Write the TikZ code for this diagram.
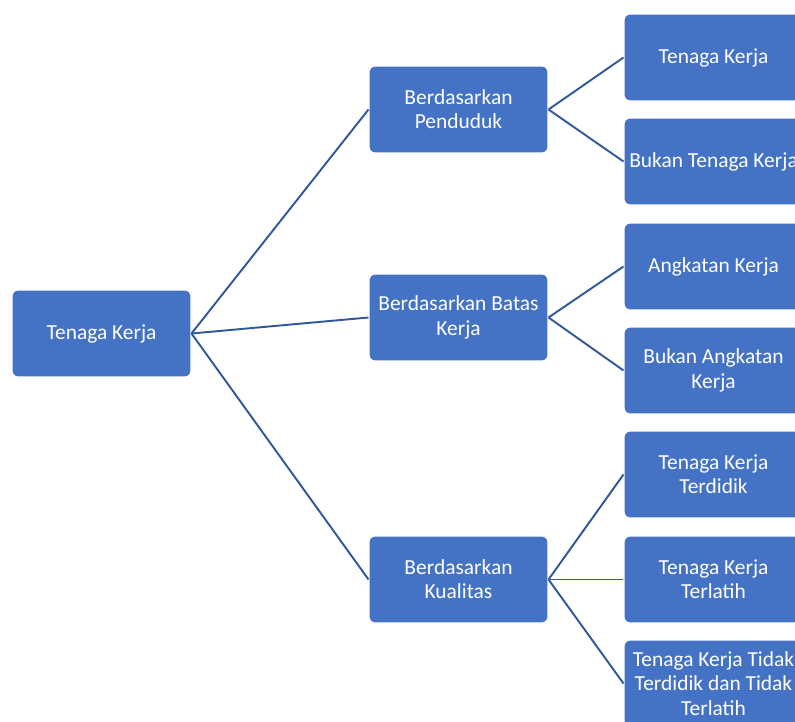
\documentclass[tikz,border=0pt]{standalone}
\usepackage{fontspec}
\setmainfont{Carlito}
\usepackage{xcolor}
\usepackage{tikz}
\usetikzlibrary{positioning}
\definecolor{boxc}{RGB}{68,114,196}
\definecolor{linkc}{RGB}{50,88,156}
\tikzset{
  unit/.style = {draw=white, line width=0.6pt, fill=boxc, rounded corners=3.5pt,
                 minimum width=3.58cm, minimum height=1.74cm, align=center,
                 inner sep=1pt, text=white, font=\fontsize{12.2}{13.8}\selectfont},
  link/.style = {draw=linkc, line width=1.1pt},
}
\begin{document}
\begin{tikzpicture}[x=0.02cm, y=-0.02cm]
\useasboundingbox (0,0) rectangle (795,722);

\node[unit] (root) at (101.5,333.5) {Tenaga Kerja};

\node[unit] (pend) at (458.5,109.5) {Berdasarkan\\Penduduk};
\node[unit] (batas) at (458.5,317.5) {Berdasarkan Batas\\Kerja};
\node[unit] (kual) at (458.5,579.5) {Berdasarkan\\Kualitas};

\node[unit] (tk) at (713.5,57.5) {Tenaga Kerja};
\node[unit] (btk) at (713.5,161.5) {Bukan Tenaga Kerja};
\node[unit] (ak) at (713.5,266.5) {Angkatan Kerja};
\node[unit] (bak) at (713.5,370.5) {Bukan Angkatan\\Kerja};
\node[unit] (tkd) at (713.5,474.5) {Tenaga Kerja\\Terdidik};
\node[unit] (tkl) at (713.5,579.5) {Tenaga Kerja\\Terlatih};
\node[unit] (tkt) at (713.5,683.5) {Tenaga Kerja Tidak\\Terdidik dan Tidak\\Terlatih};

\foreach \m in {pend,batas,kual}
  \draw[link] (root.east) -- (\m.west);

\draw[link] (pend.east) -- (tk.west);
\draw[link] (pend.east) -- (btk.west);
\draw[link] (batas.east) -- (ak.west);
\draw[link] (batas.east) -- (bak.west);
\draw[link] (kual.east) -- (tkd.west);
\draw[link] (kual.east) -- (tkl.west);
\draw[link] (kual.east) -- (tkt.west);

\end{tikzpicture}
\end{document}
